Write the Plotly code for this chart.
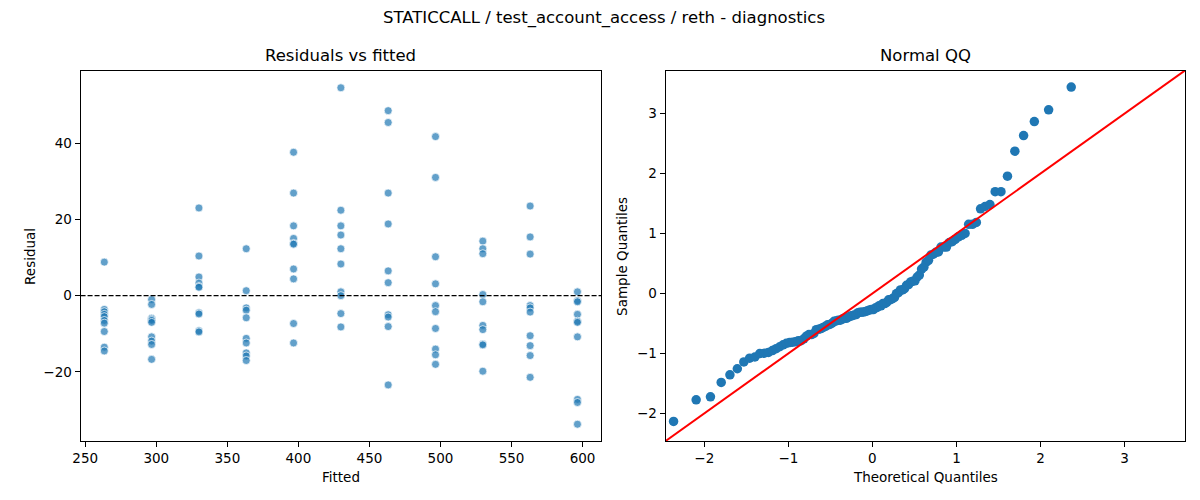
import numpy as np
import plotly.graph_objects as go
from statistics import NormalDist

# Fitted values (one column of points per level)
fitted_levels = [263.4, 296.7, 330.0, 363.3, 396.6, 429.9, 463.2, 496.5, 529.8, 563.1, 596.4]

# Residuals for each fitted level, top to bottom
residuals_by_level = [
    [8.8, -3.6, -4.2, -4.9, -5.5, -6.5, -7.2, -9.4, -13.5, -14.5],
    [-1.0, -2.3, -5.9, -6.2, -6.5, -7.0, -10.8, -11.9, -12.8, -16.7],
    [23.0, 10.4, 4.9, 3.3, 2.4, 2.2, -4.5, -4.8, -9.2, -9.5],
    [12.3, 1.3, -3.2, -3.8, -5.8, -11.2, -12.4, -15.0, -15.8, -17.0],
    [37.6, 26.9, 18.3, 15.0, 13.7, 13.5, 7.0, 4.4, -7.3, -12.4],
    [54.5, 22.4, 18.3, 15.9, 12.3, 8.3, 1.0, 0.0, -4.7, -8.2],
    [48.5, 45.4, 26.9, 18.8, 6.5, 3.4, -5.0, -5.6, -8.1, -23.4],
    [41.7, 31.0, 10.2, 3.1, -2.6, -4.2, -8.6, -14.0, -15.5, -18.0],
    [14.3, 12.3, 11.0, 0.3, -1.6, -7.8, -8.9, -12.7, -12.9, -19.8],
    [23.5, 15.4, 10.9, -2.6, -3.2, -4.3, -10.5, -13.1, -15.7, -21.4],
    [1.0, -1.3, -1.6, -4.9, -6.7, -7.0, -10.8, -27.2, -28.0, -33.7],
]

left_xticks = [250, 300, 350, 400, 450, 500, 550, 600]
left_yticks = [-20, 0, 20, 40]
qq_ticks = [-2, -1, 0, 1, 2, 3]

title = "STATICCALL / test_account_access / reth - diagnostics"

# flatten for the scatter
fitted = []
resid = []
for lvl, vals in zip(fitted_levels, residuals_by_level):
    fitted += [lvl] * len(vals)
    resid += vals
resid = np.array(resid)

# normal QQ of the standardized residuals (plotting positions i/(n+1))
n = len(resid)
sample_q = np.sort((resid - resid.mean()) / resid.std())
theo_q = np.array([NormalDist().inv_cdf(i / (n + 1)) for i in range(1, n + 1)])

qq_lo, qq_hi = -2.46, 3.72
font = "DejaVu Sans, Arial, sans-serif"

# the page body has an 8px margin, so the figure starts at (8, 8) in the window
W, H = 1192, 492
def px(x):
    return (x - 8) / W
def py(y):
    return 1 - (y - 8) / H

fig = go.Figure()

fig.add_trace(go.Scatter(
    x=fitted, y=resid, mode="markers", xaxis="x", yaxis="y",
    marker=dict(size=8, color="rgba(31,119,180,0.7)", line=dict(color="white", width=0.7)),
    showlegend=False, hoverinfo="x+y",
))

fig.add_trace(go.Scatter(
    x=theo_q, y=sample_q, mode="markers", xaxis="x2", yaxis="y2",
    marker=dict(size=9.5, color="#1f77b4", line=dict(width=0)),
    showlegend=False,
))

# 45 degree reference line
fig.add_trace(go.Scatter(
    x=[qq_lo, qq_hi], y=[qq_lo, qq_hi], mode="lines", xaxis="x2", yaxis="y2",
    line=dict(color="#ff0000", width=2), showlegend=False, hoverinfo="skip",
))

axis_style = dict(
    showline=True, mirror=True, linecolor="black", linewidth=1,
    ticks="outside", ticklen=5, tickwidth=1, tickcolor="black",
    showgrid=False, zeroline=False,
    tickfont=dict(family=font, size=13.5, color="black"),
)

fig.update_layout(
    width=W, height=H,
    margin=dict(l=0, r=0, t=0, b=0),
    plot_bgcolor="white", paper_bgcolor="white",
    font=dict(family=font, color="black"),
    xaxis=dict(domain=[px(73), px(597)], range=[246.7, 613.0], tickvals=left_xticks, anchor="y", **axis_style),
    yaxis=dict(domain=[py(441), py(71)], range=[-38.1, 58.9], tickvals=left_yticks, anchor="x", **axis_style),
    xaxis2=dict(domain=[px(662), px(1185)], range=[qq_lo, qq_hi], tickvals=qq_ticks, anchor="y2", **axis_style),
    yaxis2=dict(domain=[py(441), py(71)], range=[qq_lo, 3.71], tickvals=qq_ticks, anchor="x2", **axis_style),
    shapes=[dict(type="line", xref="x domain", yref="y", x0=0, x1=1, y0=0, y1=0,
                 line=dict(color="black", width=1.2, dash="5px,2px"))],
    showlegend=False,
)

annots = [
    dict(text=title, x=600, y=18, size=16.5),
    dict(text="Residuals vs fitted", x=335, y=56, size=16.5),
    dict(text="Normal QQ", x=923.5, y=56, size=16.5),
    dict(text="Fitted", x=335, y=477, size=13.5),
    dict(text="Theoretical Quantiles", x=923.5, y=477, size=13.5),
]
for a in annots:
    fig.add_annotation(text=a["text"], xref="paper", yref="paper", x=px(a["x"]), y=py(a["y"]),
                       xanchor="center", yanchor="middle", showarrow=False,
                       font=dict(family=font, size=a["size"], color="black"))

for txt, xp in [("Residual", 22), ("Sample Quantiles", 618)]:
    fig.add_annotation(text=txt, xref="paper", yref="paper", x=px(xp), y=py(256),
                       xanchor="center", yanchor="middle", showarrow=False, textangle=-90,
                       font=dict(family=font, size=13.5, color="black"))

fig.write_html("out.html")
